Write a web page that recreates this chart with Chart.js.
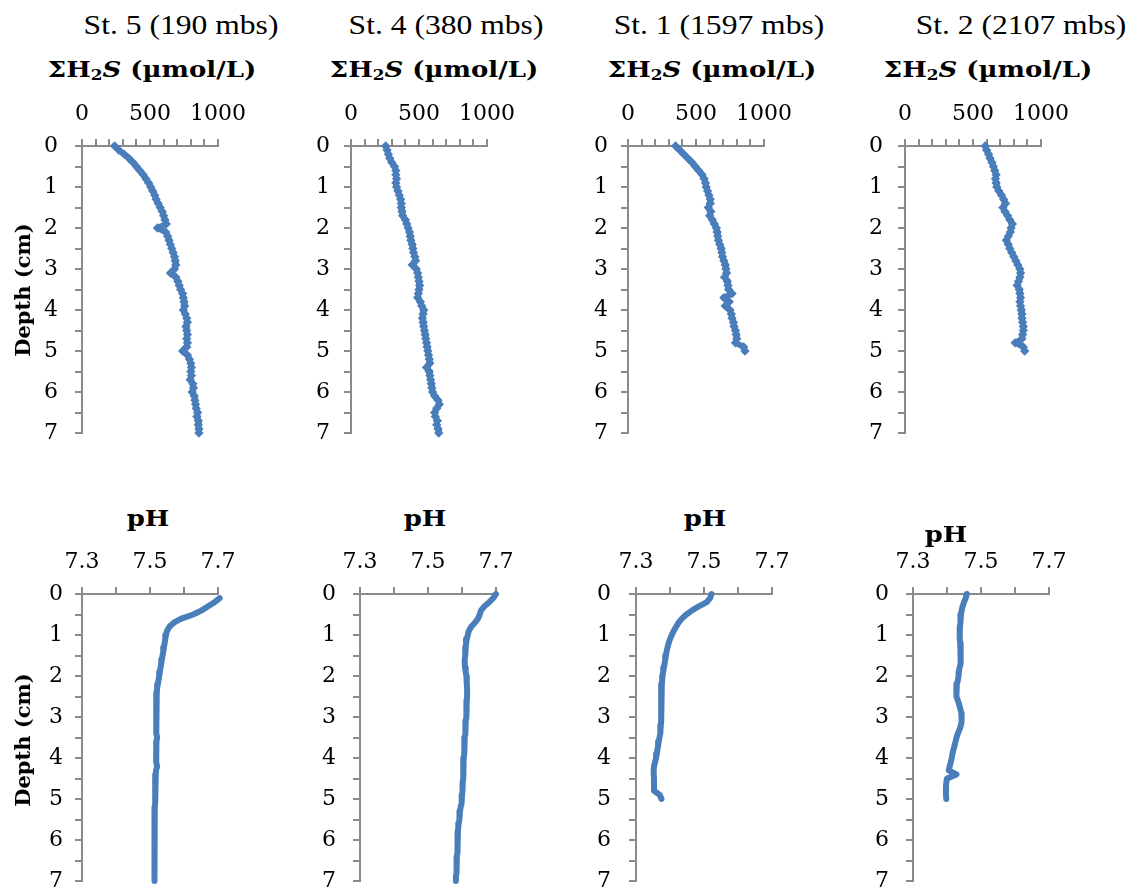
<!DOCTYPE html>
<html><head><meta charset="utf-8">
<script src="https://cdn.jsdelivr.net/npm/chart.js@4.4.1/dist/chart.umd.min.js"></script>
<style>
html,body{margin:0;padding:0;background:#fff;width:1136px;height:895px;overflow:hidden;position:relative}
canvas{position:absolute}
.t{position:absolute;white-space:nowrap;line-height:1;color:#000}
.st{font-family:"Liberation Serif";font-size:27px;transform:translate(-50%,-50%) scaleX(1.17)}
.ax{font-family:"DejaVu Serif";font-weight:bold;font-size:22px;transform:translate(-50%,-50%) scaleX(1.18)}
.ax sub{font-size:0.65em;vertical-align:-0.22em;line-height:0}
.rot{font-family:"DejaVu Serif";font-weight:bold;font-size:21px;transform:translate(-50%,-50%) rotate(-90deg)}
</style></head><body>
<script>
// ---------- data ----------
const DEPTH_7 = [0,0.1,0.2,0.3,0.4,0.5,0.6,0.7,0.8,0.9,1,1.1,1.2,1.3,1.4,1.5,1.6,1.7,1.8,1.9,2,2.1,2.2,2.3,2.4,2.5,2.6,2.7,2.8,2.9,3,3.1,3.2,3.3,3.4,3.5,3.6,3.7,3.8,3.9,4,4.1,4.2,4.3,4.4,4.5,4.6,4.7,4.8,4.9,5,5.1,5.2,5.3,5.4,5.5,5.6,5.7,5.8,5.9,6,6.1,6.2,6.3,6.4,6.5,6.6,6.7,6.8,6.9,7];
const DEPTH_5 = [0,0.1,0.2,0.3,0.4,0.5,0.6,0.7,0.8,0.9,1,1.1,1.2,1.3,1.4,1.5,1.6,1.7,1.8,1.9,2,2.1,2.2,2.3,2.4,2.5,2.6,2.7,2.8,2.9,3,3.1,3.2,3.3,3.4,3.5,3.6,3.7,3.8,3.9,4,4.1,4.2,4.3,4.4,4.5,4.6,4.7,4.8,4.9,5];

const STATIONS = ['St. 5 (190 mbs)','St. 4 (380 mbs)','St. 1 (1597 mbs)','St. 2 (2107 mbs)'];

// ΣH2S (µmol/L)
const H2S_ST5 = [240,270,310,345,375,400,425,450,470,490, 505,520,535,545,560,575,590,600,610,620, 555,615,630,640,650,660,670,680,685,690, 680,650,690,705,715,725,740,745,750,755, 745,760,770,775,765,770,775,770,775,770, 740,775,790,800,805,800,805,795,815,820, 810,825,830,835,840,850,845,855,855,860, 860];
const H2S_ST4 = [255,265,275,285,300,320,330,330,335,330, 335,345,355,365,370,370,375,380,400,410, 420,430,435,440,450,455,460,470,475,450, 480,490,495,500,505,500,495,490,510,520, 535,530,525,530,535,540,545,550,555,560, 565,570,575,580,555,575,580,585,590,595, 600,615,640,650,630,615,620,635,630,640, 645];
const H2S_ST1 = [350,380,410,440,470,495,520,545,560,570, 575,585,595,605,605,590,610,600,620,635, 650,655,660,665,675,685,690,695,705,715, 720,725,710,730,735,740,765,705,745,715, 750,760,765,775,780,790,795,800,790,850, 860];
const H2S_ST2 = [590,600,615,625,640,650,660,670,665,670, 675,690,710,725,740,720,735,755,770,790, 780,775,760,745,760,770,785,800,815,830, 845,850,845,835,825,840,845,850,845,850, 855,860,860,865,870,870,865,860,810,870, 880];

// pH
const PH_ST5 = [null,7.705,7.69,7.671,7.652,7.627,7.592,7.570,7.557,7.550, 7.547,7.545,7.543,7.541,7.539,7.537,7.535,7.533,7.531,7.529, 7.527,7.525,7.523,7.521,7.520,7.519,7.518,7.518,7.518,7.518, 7.518,7.518,7.519,7.519,7.519,7.521,7.519,7.518,7.518,7.518, 7.518,7.519,7.521,7.518,7.517,7.516,7.516,7.515,7.515,7.515, 7.515,7.515,7.514,7.514,7.514,7.514,7.514,7.514,7.514,7.514, 7.514,7.513,7.513,7.513,7.513,7.513,7.512,7.512,7.512,7.512, 7.512];
const PH_ST4 = [7.700,7.692,7.680,7.666,7.656,7.652,7.647,7.638,7.627,7.620, 7.617,7.614,7.612,7.611,7.610,7.609,7.608,7.608,7.609,7.611, 7.613,7.614,7.614,7.615,7.615,7.615,7.614,7.614,7.613,7.613, 7.612,7.611,7.611,7.610,7.609,7.608,7.608,7.607,7.606,7.606, 7.605,7.605,7.604,7.604,7.603,7.603,7.602,7.602,7.601,7.600, 7.600,7.598,7.596,7.594,7.593,7.592,7.590,7.589,7.588,7.588, 7.587,7.587,7.586,7.586,7.585,7.585,7.584,7.584,7.583,7.582, 7.582];
const PH_ST1 = [7.522,7.518,7.508,7.485,7.465,7.448,7.435,7.425,7.418,7.411, 7.405,7.400,7.396,7.393,7.390,7.388,7.386,7.384,7.382,7.380, 7.378,7.377,7.376,7.375,7.374,7.374,7.374,7.374,7.374,7.374, 7.374,7.374,7.373,7.372,7.371,7.369,7.367,7.365,7.363,7.361, 7.359,7.356,7.353,7.352,7.352,7.353,7.353,7.353,7.353,7.370, 7.375];
const PH_ST2 = [7.458,7.455,7.450,7.446,7.443,7.441,7.440,7.439,7.438,7.437, 7.437,7.438,7.439,7.440,7.441,7.441,7.440,7.439,7.437,7.435, 7.434,7.432,7.429,7.427,7.427,7.429,7.432,7.436,7.439,7.442, 7.443,7.443,7.441,7.437,7.432,7.428,7.425,7.422,7.419,7.416, 7.414,7.411,7.408,7.405,7.428,7.400,7.398,7.397,7.397,7.397, 7.398];

const H2S_TICK_LABELS = ['0','500','1000'];
const PH_TICK_LABELS = ['7.3','7.5','7.7'];
const DEPTH_TICK_LABELS = ['0','1','2','3','4','5','6','7'];

// ---------- layout ----------
const BLUE = '#4a7ebb';
const GREY = '#8a8a8a';
const PLOT_W = 136, PLOT_H = 287, AX_W = 60, AX_H = 48, PAD_R = 60, PAD_B = 48;
const TOP_AXIS_X = [82, 351, 628, 905], TOP_AXIS_Y = 146;
const BOT_AXIS_X = [82, 360, 636, 913], BOT_AXIS_Y = 594;
const TOP_YPAD = [17, 14, 13, 15];
const BOT_YPAD = [12, 17, 18, 17];

function addText(cls, html, x, y){
  const d = document.createElement('div');
  d.className = 't ' + cls;
  d.innerHTML = html;
  d.style.left = x + 'px';
  d.style.top = y + 'px';
  document.body.appendChild(d);
}

function panel(axisX, axisY, depths, values, isPH, yPad){
  const cv = document.createElement('canvas');
  cv.width = AX_W + PLOT_W + PAD_R;
  cv.height = AX_H + PLOT_H + PAD_B;
  cv.style.left = (axisX - AX_W) + 'px';
  cv.style.top = (axisY - AX_H) + 'px';
  document.body.appendChild(cv);
  const pts = depths.map((d, i) => ({x: values[i], y: d}));
  const tickFont = {family: 'DejaVu Serif', size: 22};
  new Chart(cv, {
    type: 'scatter',
    data: {datasets: [{
      data: pts, showLine: true, spanGaps: true, clip: false, tension: 0,
      borderColor: BLUE, backgroundColor: BLUE,
      borderWidth: 6,
      borderCapStyle: 'round', borderJoinStyle: 'round',
      pointRadius: isPH ? 0 : 3.6, pointStyle: 'rectRot',
      pointBorderWidth: 1.5, pointBorderColor: BLUE, pointBackgroundColor: BLUE
    }]},
    options: {
      responsive: false, animation: false, events: [],
      layout: {padding: {left: 0, top: 0, right: PAD_R, bottom: PAD_B}},
      plugins: {legend: {display: false}, tooltip: {enabled: false}},
      scales: {
        x: {
          type: 'linear', position: 'top',
          min: isPH ? 7.3 : 0, max: isPH ? 7.7 : 1000,
          afterFit: s => { s.height = AX_H; },
          ticks: {
            stepSize: isPH ? 0.1 : 100, autoSkip: false, maxRotation: 0, minRotation: 0,
            padding: 12, color: '#000', font: tickFont,
            callback: v => {
              if (isPH) {
                const lbl = v.toFixed(1);
                return PH_TICK_LABELS.includes(lbl) ? lbl : '';
              }
              return H2S_TICK_LABELS.includes(String(v)) ? String(v) : '';
            }
          },
          grid: {drawOnChartArea: false, drawTicks: true, tickLength: 7, color: GREY, lineWidth: 2},
          border: {display: true, color: GREY, width: 2}
        },
        y: {
          type: 'linear', reverse: true, min: 0, max: 7,
          afterFit: s => { s.width = AX_W; },
          ticks: {
            stepSize: 0.5, autoSkip: false, padding: yPad, color: '#000', font: tickFont,
            callback: v => DEPTH_TICK_LABELS.includes(String(v)) ? String(v) : ''
          },
          grid: {drawOnChartArea: false, drawTicks: true, tickLength: 7, color: GREY, lineWidth: 2},
          border: {display: true, color: GREY, width: 2}
        }
      }
    }
  });
}

const H2S = [[H2S_ST5, DEPTH_7], [H2S_ST4, DEPTH_7], [H2S_ST1, DEPTH_5], [H2S_ST2, DEPTH_5]];
const PH = [[PH_ST5, DEPTH_7], [PH_ST4, DEPTH_7], [PH_ST1, DEPTH_5], [PH_ST2, DEPTH_5]];
for (let i = 0; i < 4; i++) {
  panel(TOP_AXIS_X[i], TOP_AXIS_Y, H2S[i][1], H2S[i][0], false, TOP_YPAD[i]);
  panel(BOT_AXIS_X[i], BOT_AXIS_Y, PH[i][1], PH[i][0], true, BOT_YPAD[i]);
}

// ---------- titles ----------
const ST_X = [181, 446, 719, 1021];
const H2S_TITLE_X = [152, 434, 712, 988];
const PH_TITLE_X = [148, 425, 705, 946];
const PH_TITLE_Y = [518, 518, 518, 534];
for (let i = 0; i < 4; i++) {
  addText('st', STATIONS[i], ST_X[i], 25);
  addText('ax', '\u03A3H<sub>2</sub><i>S</i> (\u00B5mol/L)', H2S_TITLE_X[i], 69);
  addText('ax', 'pH', PH_TITLE_X[i], PH_TITLE_Y[i]);
}
addText('rot', 'Depth (cm)', 22, 290);
addText('rot', 'Depth (cm)', 22, 740);
</script>
</body></html>
